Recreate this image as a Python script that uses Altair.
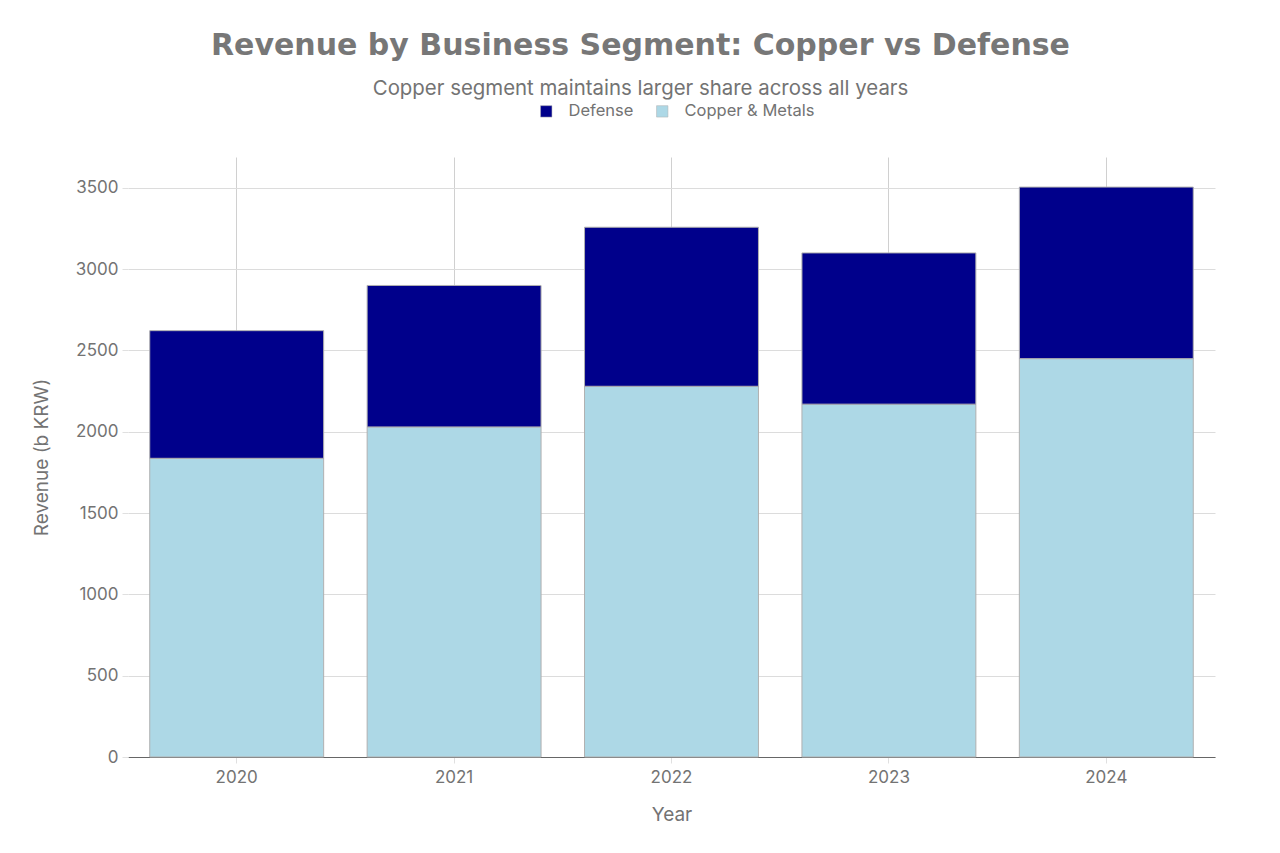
import altair as alt
import pandas as pd

years = ["2020", "2021", "2022", "2023", "2024"]
copper = [1837, 2030, 2280, 2170, 2450]
defense = [785, 870, 978, 930, 1055]
segments = ["Defense", "Copper & Metals"]
colors = ["#00008B", "#ADD8E6"]

rows = []
for i, y in enumerate(years):
    rows.append({"Year": y, "Segment": "Copper & Metals", "Revenue": copper[i], "order": 0})
    rows.append({"Year": y, "Segment": "Defense", "Revenue": defense[i], "order": 1})
df = pd.DataFrame(rows)

grey = "#737373"
font = "Inter"

chart = alt.Chart(df).mark_bar(stroke="#b0b0b0", strokeWidth=1).encode(
    x=alt.X("Year:N", sort=years,
            scale=alt.Scale(paddingInner=0.2, paddingOuter=0.1),
            axis=alt.Axis(title="Year", labelAngle=0, grid=True, bandPosition=0.5,
                          gridColor="#d0d0d0", domainColor="#666666", domainWidth=1.2,
                          tickColor="#e0e0e0", tickSize=6,
                          labelFont=font, labelFontSize=17, labelColor=grey,
                          labelPadding=6,
                          titleFont=font, titleFontSize=19, titleColor=grey,
                          titleFontWeight="normal", titlePadding=20)),
    y=alt.Y("Revenue:Q", stack="zero",
            scale=alt.Scale(domain=[0, 3690], nice=False),
            axis=alt.Axis(title="Revenue (b KRW)", values=[0, 500, 1000, 1500, 2000, 2500, 3000, 3500],
                          format="d",
                          grid=True, gridColor="#dcdcdc", domain=False,
                          tickColor="#e0e0e0", tickSize=6,
                          labelFont=font, labelFontSize=17, labelColor=grey,
                          labelPadding=4,
                          titleFont=font, titleFontSize=19, titleColor=grey,
                          titleFontWeight="normal", titlePadding=24)),
    color=alt.Color("Segment:N",
                    scale=alt.Scale(domain=segments, range=colors),
                    legend=alt.Legend(title=None, orient="none", direction="horizontal",
                                      legendX=410, legendY=-54,
                                      symbolType="square", symbolSize=130,
                                      symbolStrokeColor="#b0b0b0", symbolStrokeWidth=0.5,
                                      labelOffset=14,
                                      labelFont=font, labelFontSize=16.5,
                                      labelColor=grey, columnPadding=20)),
    order=alt.Order("order:Q", sort="ascending"),
).properties(
    width=1087,
    height=600,
    padding={"left": 120, "top": 149, "right": 57, "bottom": 88},
    autosize=alt.AutoSizeParams(type="none"),
    title=alt.TitleParams(
        text="Revenue by Business Segment: Copper vs Defense",
        subtitle="Copper segment maintains larger share across all years",
        anchor="middle", dx=-31, offset=4,
        font="DejaVu Sans", fontSize=30, fontWeight="bold", color="#777777",
        subtitleFont=font, subtitleFontSize=20.4, subtitleColor=grey,
        subtitlePadding=18,
    ),
).configure_view(stroke=None)

chart.save("out.html", embed_options={"renderer": "svg", "actions": False})
